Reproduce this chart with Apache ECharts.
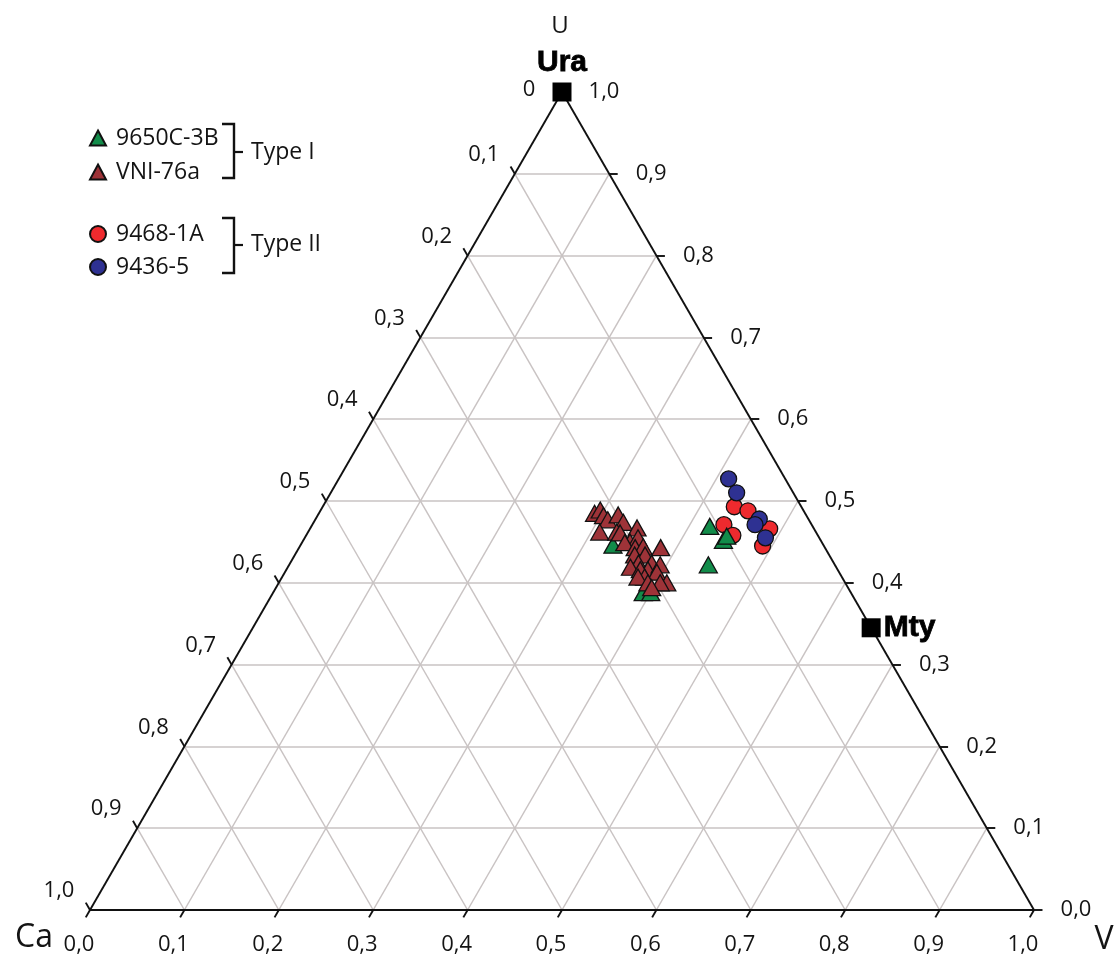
<!DOCTYPE html>
<html><head><meta charset="utf-8">
<script src="https://cdn.jsdelivr.net/npm/echarts@6/dist/echarts.min.js"></script>
<style>html,body{margin:0;padding:0;background:#fff}#c{width:1118px;height:956px}</style>
</head><body><div id="c"></div><script>
// ---- data ----
const tickValues = [0, 0.1, 0.2, 0.3, 0.4, 0.5, 0.6, 0.7, 0.8, 0.9, 1.0];
const tickLabels = ['0,0','0,1','0,2','0,3','0,4','0,5','0,6','0,7','0,8','0,9','1,0'];
const leftTopLabel = '0';
const vertexNames = ['U', 'Ca', 'V'];
// samples: [U, V] fractions (Ca = 1 - U - V)
const s9650C_3B = [[0.446,0.331],[0.388,0.392],[0.388,0.400],[0.469,0.422],[0.452,0.445],[0.457,0.446],[0.422,0.444]];
const sVNI_76a = [[0.485,0.292],[0.489,0.296],[0.482,0.303],[0.477,0.310],[0.483,0.318],[0.474,0.328],[0.462,0.309],[0.462,0.327],[0.461,0.331],[0.467,0.346],[0.450,0.347],[0.455,0.353],[0.449,0.342],[0.443,0.356],[0.444,0.364],[0.443,0.383],[0.434,0.360],[0.434,0.371],[0.424,0.369],[0.419,0.363],[0.424,0.383],[0.416,0.383],[0.416,0.375],[0.422,0.393],[0.413,0.394],[0.407,0.384],[0.407,0.377],[0.400,0.411],[0.400,0.404],[0.400,0.391],[0.394,0.398]];
const s9468_1A = [[0.493,0.436],[0.488,0.453],[0.471,0.436],[0.458,0.452],[0.466,0.487],[0.445,0.490]];
const s9436_5 = [[0.527,0.413],[0.510,0.430],[0.478,0.470],[0.471,0.469],[0.455,0.488]];
const endMemberNames = ['Ura', 'Mty'];
const endMemberValues = [[1, 0], [0.345, 0.655]];
const seriesNames = ['9650C-3B', 'VNI-76a', '9468-1A', '9436-5'];
const groupNames = ['Type I', 'Type II'];

// ---- ternary -> cartesian ----
const H = Math.sqrt(3) / 2;
function tern(u, v) { return [v + u / 2, u * H]; }

const FONT = "'Open Sans', sans-serif";
const gridLines = [], edgeLines = [];
for (let i = 1; i < 10; i++) {
  const k = tickValues[i];
  gridLines.push({coords: [tern(k, 0), tern(k, 1 - k)]});
  gridLines.push({coords: [tern(0, k), tern(1 - k, k)]});
  gridLines.push({coords: [tern(0, 1 - k), tern(1 - k, 0)]});
}
edgeLines.push({coords: [tern(0, 0), tern(0, 1)]});
edgeLines.push({coords: [tern(0, 1), tern(1, 0)]});
edgeLines.push({coords: [tern(1, 0), tern(0, 0)]});
const t = 0.009;
tickValues.forEach(k => {
  edgeLines.push({coords: [tern(0, k), tern(-t, k)]});            // bottom (V)
  edgeLines.push({coords: [tern(k, 1 - k), tern(k, 1 - k + t)]});  // right (U)
  edgeLines.push({coords: [tern(1 - k, 0), tern(1 - k + t, -t)]}); // left (Ca)
});

const lab = (pos, name, off, extra) => Object.assign({value: pos, name: name, label: {offset: off}}, extra || {});
const tickLabelData = [];
tickValues.forEach((k, i) => {
  tickLabelData.push(lab(tern(0, k), tickLabels[i], [-11, 35]));
  tickLabelData.push(lab(tern(k, 1 - k), tickLabels[i], [42, 0]));
  if (i === 0) tickLabelData.push(lab(tern(1, 0), leftTopLabel, [-33, -2]));
  else tickLabelData.push(lab(tern(1 - k, 0), tickLabels[i], [-31, -19]));
});
const vertexLabelData = [
  lab(tern(1, 0), vertexNames[0], [-2, -66], {label: {offset: [-2, -66], fontSize: 24}}),
  lab(tern(0, 0), vertexNames[1], [-56, 28], {label: {offset: [-56, 28], fontSize: 32}}),
  lab(tern(0, 1), vertexNames[2], [70, 30], {label: {offset: [70, 30], fontSize: 32}})
];

const toXY = arr => arr.map(p => tern(p[0], p[1]));
const pointStyle = (color) => ({color: color, borderColor: '#111', borderWidth: 1.3, opacity: 1});
const GREEN = '#128c4a', BROWN = '#9e3338', RED = '#ee2a2e', BLUE = '#2e3192';
const TXT = '#141414';

const chart = echarts.init(document.getElementById('c'), null, {renderer: 'canvas'});
chart.setOption({
  animation: false,
  backgroundColor: '#fff',
  grid: {left: 90, right: 84, top: 92, bottom: 46},
  xAxis: {type: 'value', min: 0, max: 1, show: false},
  yAxis: {type: 'value', min: 0, max: H, show: false},
  legend: [
    {data: [seriesNames[0], seriesNames[1]], orient: 'vertical', left: 84, top: 121, itemWidth: 16, itemHeight: 15, itemGap: 10,
     textStyle: {fontFamily: FONT, fontSize: 23, color: TXT, lineHeight: 24, padding: [0, 0, 0, 5]}},
    {data: [seriesNames[2], seriesNames[3]], orient: 'vertical', left: 84, top: 217, itemWidth: 16, itemHeight: 16, itemGap: 9,
     textStyle: {fontFamily: FONT, fontSize: 23, color: TXT, lineHeight: 24, padding: [0, 0, 0, 5]}}
  ],
  graphic: [
    {type: 'polyline', shape: {points: [[222,124],[234,124],[234,178],[222,178]]}, style: {stroke: '#111', lineWidth: 2.4, fill: null}},
    {type: 'line', shape: {x1: 234, y1: 152, x2: 243, y2: 152}, style: {stroke: '#111', lineWidth: 2.2}},
    {type: 'text', x: 251, y: 152, style: {text: groupNames[0], font: "23px 'Open Sans', sans-serif", fill: TXT, verticalAlign: 'middle'}},
    {type: 'polyline', shape: {points: [[222,218],[234,218],[234,273],[222,273]]}, style: {stroke: '#111', lineWidth: 2.4, fill: null}},
    {type: 'line', shape: {x1: 234, y1: 245, x2: 243, y2: 245}, style: {stroke: '#111', lineWidth: 2.2}},
    {type: 'text', x: 251, y: 244, style: {text: groupNames[1], font: "23px 'Open Sans', sans-serif", fill: TXT, verticalAlign: 'middle'}}
  ],
  series: [
    {type: 'lines', coordinateSystem: 'cartesian2d', data: gridLines, z: 1, silent: true,
     lineStyle: {color: '#c9c3c3', width: 1.5, opacity: 1}},
    {type: 'lines', coordinateSystem: 'cartesian2d', data: edgeLines, z: 2, silent: true, clip: false,
     lineStyle: {color: '#111', width: 1.9, opacity: 1}},
    {type: 'scatter', data: tickLabelData, symbolSize: 0, z: 3, silent: true, clip: false, itemStyle: {opacity: 1},
     label: {show: true, position: 'inside', formatter: p => p.name, fontFamily: FONT, fontSize: 22, color: TXT}},
    {type: 'scatter', data: vertexLabelData, symbolSize: 0, z: 3, silent: true, clip: false, itemStyle: {opacity: 1},
     label: {show: true, position: 'inside', formatter: p => p.name, fontFamily: FONT, color: TXT}},
    {name: seriesNames[2], type: 'scatter', data: toXY(s9468_1A), symbol: 'circle', symbolSize: 16, z: 5, itemStyle: pointStyle(RED)},
    {name: seriesNames[3], type: 'scatter', data: toXY(s9436_5), symbol: 'circle', symbolSize: 16, z: 5, itemStyle: pointStyle(BLUE)},
    {name: seriesNames[0], type: 'scatter', data: toXY(s9650C_3B), symbol: 'triangle', symbolSize: [18, 16], z: 5, itemStyle: pointStyle(GREEN)},
    {name: seriesNames[1], type: 'scatter', data: toXY(sVNI_76a), symbol: 'triangle', symbolSize: [18, 16], z: 5, itemStyle: pointStyle(BROWN)},
    {type: 'scatter', data: endMemberValues.map((p, i) => ({value: tern(p[0], p[1]), name: endMemberNames[i],
        label: i === 0 ? {position: 'top', distance: 5} : {position: 'right', distance: 3, offset: [0, 0]}})),
     symbol: 'rect', symbolSize: 19, z: 6, clip: false, silent: true, itemStyle: {color: '#000', opacity: 1},
     label: {show: true, formatter: p => p.name, fontFamily: "'Liberation Sans', Arial, sans-serif", fontWeight: 'bold', fontSize: 30, color: '#000', textBorderColor: '#000', textBorderWidth: 0.8}}
  ]
});
</script></body></html>
